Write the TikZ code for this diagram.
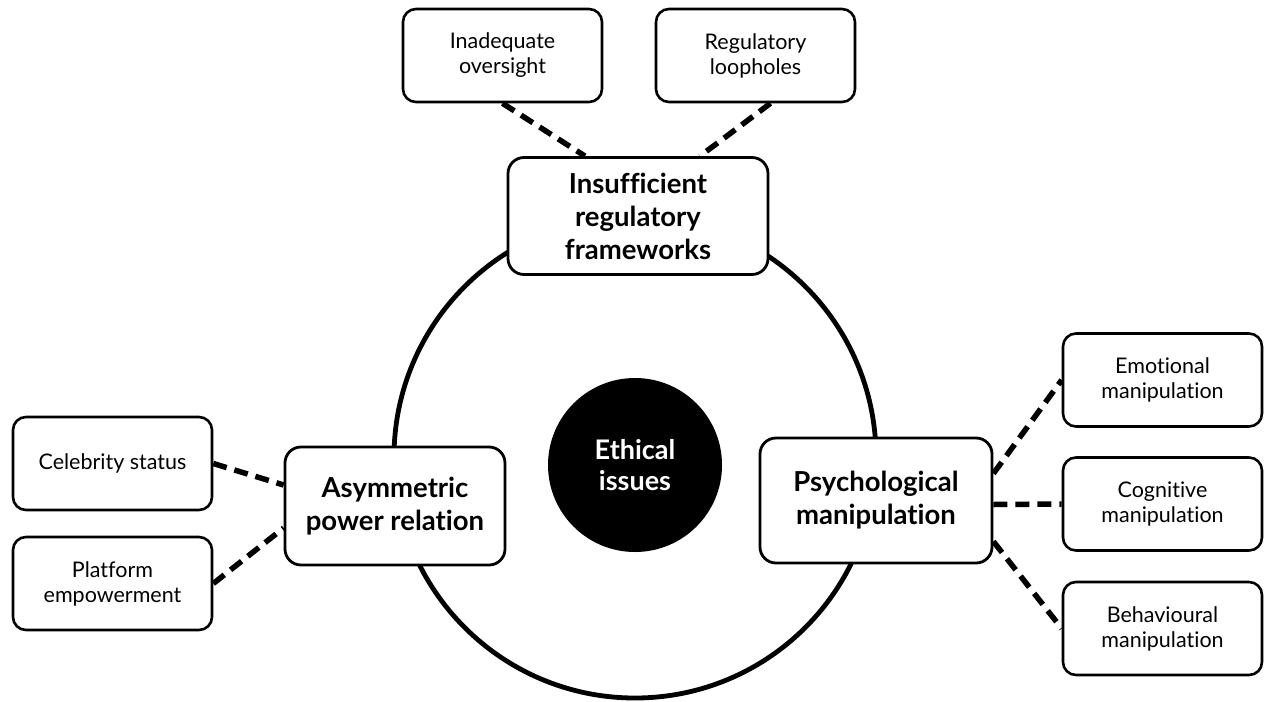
\documentclass[tikz,border=0pt]{standalone}
\usepackage{fontspec}
\setmainfont{Lato}[Ligatures=NoCommon]
\begin{document}
\begin{tikzpicture}[x=1pt,y=-1pt,
  smallbox/.style={draw=black,line width=2.6pt,rounded corners=13pt,fill=white,
    minimum width=199pt,minimum height=93pt,inner sep=0pt,align=center,
    font=\fontsize{21.5}{25}\selectfont},
  mainbox/.style={draw=black,line width=2.8pt,rounded corners=16pt,fill=white,
    inner sep=0pt,align=center,font=\bfseries\fontsize{27.5}{33}\selectfont},
  link/.style={line width=5.5pt,dash pattern=on 14pt off 8pt}]
\useasboundingbox (0,0) rectangle (1273,701);
\fill[white] (0,0) rectangle (1273,701);
% outer ring
\draw[line width=4.8pt] (635,457) circle[radius=241];
% centre
\node[circle,fill=black,minimum size=174pt,inner sep=0pt,text=white,align=center,
  font=\bfseries\fontsize{27}{31}\selectfont] (eth) at (635,465) {Ethical\\issues};
% main boxes
\node[mainbox,minimum width=260pt,minimum height=117pt] (reg) at (638,216) {Insufficient\\regulatory\\frameworks};
\node[mainbox,minimum width=220pt,minimum height=118pt] (asym) at (395,506) {Asymmetric\\power relation};
\node[mainbox,minimum width=232pt,minimum height=125pt] (psy) at (876,500.5) {Psychological\\manipulation};
% small boxes
\node[smallbox] (ino) at (502.5,55.5) {Inadequate\\oversight};
\node[smallbox] (rlo) at (755.5,55.5) {Regulatory\\loopholes};
\node[smallbox] (cel) at (112.5,463.5) {Celebrity status};
\node[smallbox] (pla) at (112.5,583.5) {Platform\\empowerment};
\node[smallbox] (emo) at (1162.5,380) {Emotional\\manipulation};
\node[smallbox] (cog) at (1162.5,504) {Cognitive\\manipulation};
\node[smallbox] (beh) at (1162.5,628.5) {Behavioural\\manipulation};
% connectors
\draw[link] (ino.south) -- ([xshift=-53pt]reg.north);
\draw[link] ([xshift=15pt]rlo.south) -- ([xshift=62pt]reg.north);
\draw[link] (cel.east) -- ([yshift=21pt]asym.west);
\draw[link] (pla.east) -- ([yshift=-22pt]asym.west);
\draw[link] ([yshift=27pt]psy.east) -- (emo.west);
\draw[link] ([yshift=-4pt]psy.east) -- (cog.west);
\draw[link] ([yshift=-41pt]psy.east) -- (beh.west);
\end{tikzpicture}
\end{document}
